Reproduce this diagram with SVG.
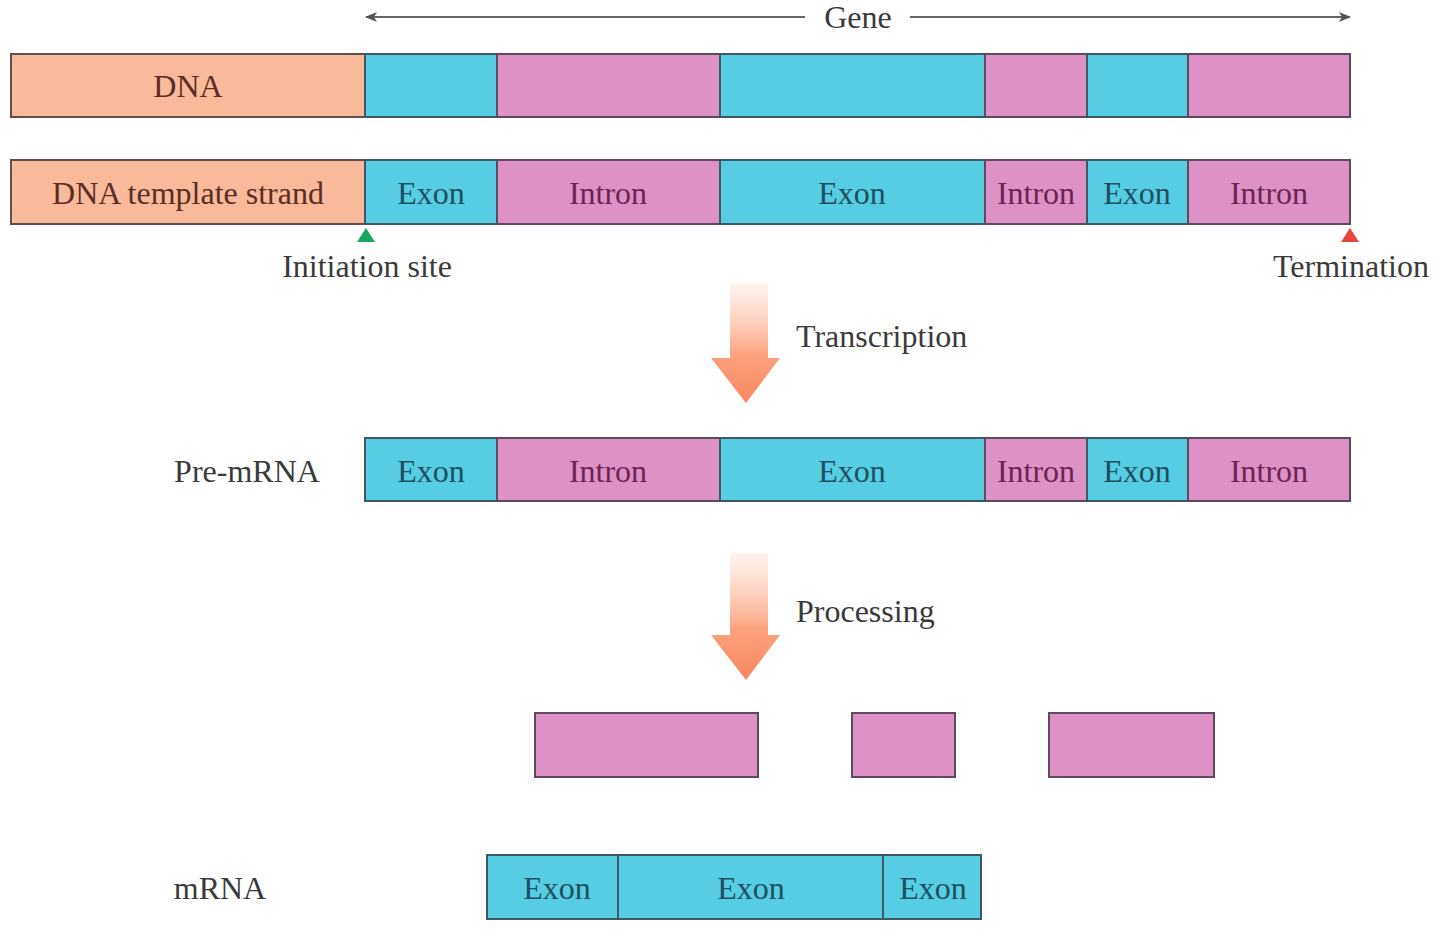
<svg xmlns="http://www.w3.org/2000/svg" width="1440" height="947" viewBox="0 0 1440 947">
<style>
text{font-family:"Liberation Serif","Times New Roman",serif;font-size:32px;text-anchor:middle}
.ex{fill:#56cde3;stroke:#3f5866;stroke-width:2}
.in{fill:#de91c5;stroke:#5e4a60;stroke-width:2}
.or{fill:#f9b99b;stroke:#5e5050;stroke-width:2}
.tex{fill:#1d4f60}
.tin{fill:#6a2452}
.tor{fill:#5a2e24}
.lab{fill:#3a3a3a}
</style>
<defs>
<linearGradient id="ag" x1="0" y1="0" x2="0" y2="1">
<stop offset="0" stop-color="#fde7dc" stop-opacity="0.5"/>
<stop offset="0.6" stop-color="#fba27d"/>
<stop offset="1" stop-color="#f9875f"/>
</linearGradient>
<marker id="ah" viewBox="0 0 12 10" refX="11" refY="5" markerWidth="12" markerHeight="10" markerUnits="userSpaceOnUse" orient="auto-start-reverse">
<path d="M0,0 L12,5 L0,10 L3,5 Z" fill="#555"/>
</marker>
</defs>
<g id="connectors">
<line x1="366" y1="17" x2="805" y2="17" stroke="#666" stroke-width="2" marker-start="url(#ah)"/>
<line x1="910" y1="17" x2="1350" y2="17" stroke="#666" stroke-width="2" marker-end="url(#ah)"/>
<path id="transcription-arrow" d="M730,283 H768 V358 H780 L746,403 L711,358 H730 Z" fill="url(#ag)"/>
<path id="processing-arrow" d="M730,553 H768 V635 H780 L746,680 L711,635 H730 Z" fill="url(#ag)"/>
</g>
<text class="lab" x="858" y="28">Gene</text>
<g id="dna">
<rect class="or" x="11" y="54" width="354" height="63"/>
<text class="tor" x="188" y="97">DNA</text>
<rect class="ex" x="365" y="54" width="132" height="63"/>
<rect class="in" x="497" y="54" width="223" height="63"/>
<rect class="ex" x="720" y="54" width="265" height="63"/>
<rect class="in" x="985" y="54" width="102" height="63"/>
<rect class="ex" x="1087" y="54" width="101" height="63"/>
<rect class="in" x="1188" y="54" width="162" height="63"/>
</g>
<g id="template">
<rect class="or" x="11" y="160" width="354" height="64"/>
<text class="tor" x="188" y="204">DNA template strand</text>
<rect class="ex" x="365" y="160" width="132" height="64"/>
<text class="tex" x="431" y="204">Exon</text>
<rect class="in" x="497" y="160" width="223" height="64"/>
<text class="tin" x="608" y="204">Intron</text>
<rect class="ex" x="720" y="160" width="265" height="64"/>
<text class="tex" x="852" y="204">Exon</text>
<rect class="in" x="985" y="160" width="102" height="64"/>
<text class="tin" x="1036" y="204">Intron</text>
<rect class="ex" x="1087" y="160" width="101" height="64"/>
<text class="tex" x="1137" y="204">Exon</text>
<rect class="in" x="1188" y="160" width="162" height="64"/>
<text class="tin" x="1269" y="204">Intron</text>
</g>
<g id="initiation">
<path d="M366,228 L375,242 L357,242 Z" fill="#1aa660"/>
<text class="lab" x="367" y="277">Initiation site</text>
</g>
<g id="termination">
<path d="M1350,228 L1359,242 L1341,242 Z" fill="#e8453c"/>
<text class="lab" x="1351" y="277">Termination</text>
</g>
<text class="lab" x="796" y="347" style="text-anchor:start">Transcription</text>
<g id="premrna">
<text class="lab" x="247" y="482">Pre-mRNA</text>
<rect class="ex" x="365" y="438" width="132" height="63"/>
<text class="tex" x="431" y="482">Exon</text>
<rect class="in" x="497" y="438" width="223" height="63"/>
<text class="tin" x="608" y="482">Intron</text>
<rect class="ex" x="720" y="438" width="265" height="63"/>
<text class="tex" x="852" y="482">Exon</text>
<rect class="in" x="985" y="438" width="102" height="63"/>
<text class="tin" x="1036" y="482">Intron</text>
<rect class="ex" x="1087" y="438" width="101" height="63"/>
<text class="tex" x="1137" y="482">Exon</text>
<rect class="in" x="1188" y="438" width="162" height="63"/>
<text class="tin" x="1269" y="482">Intron</text>
</g>
<text class="lab" x="796" y="622" style="text-anchor:start">Processing</text>
<g id="introns">
<rect class="in" x="535" y="713" width="223" height="64"/>
<rect class="in" x="852" y="713" width="103" height="64"/>
<rect class="in" x="1049" y="713" width="165" height="64"/>
</g>
<g id="mrna">
<text class="lab" x="220" y="899">mRNA</text>
<rect class="ex" x="487" y="855" width="131" height="64"/>
<text class="tex" x="557" y="899">Exon</text>
<rect class="ex" x="618" y="855" width="265" height="64"/>
<text class="tex" x="751" y="899">Exon</text>
<rect class="ex" x="883" y="855" width="98" height="64"/>
<text class="tex" x="933" y="899">Exon</text>
</g>
</svg>
